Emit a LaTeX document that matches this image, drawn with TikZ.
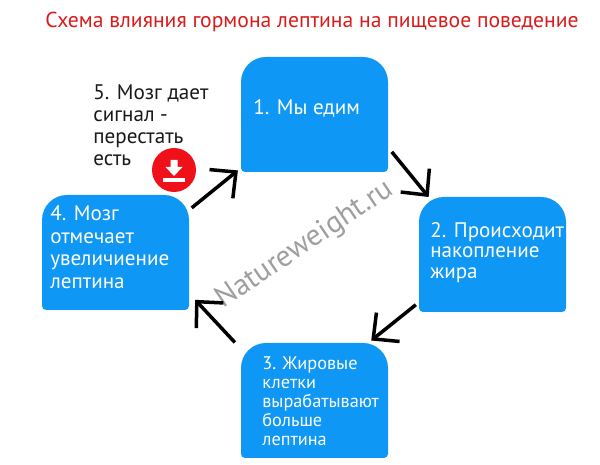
\documentclass[tikz,border=0pt]{standalone}
\usepackage{fontspec}
\setmainfont{PT Sans}
\usepackage{tikz}
\usetikzlibrary{arrows.meta}
\pgfdeclarelayer{background}
\pgfsetlayers{background,main}
\definecolor{boxblue}{HTML}{0E97F4}
\definecolor{titlered}{HTML}{D81B1B}
\definecolor{iconred}{HTML}{F0101A}
\tikzstyle{diagElt} = [minimum width=2.94cm, minimum height=2.3cm, inner sep=0pt, outer sep=0pt]
\tikzstyle{diagTxt} = [anchor=north west, inner sep=0pt, align=left, text=white,
  font=\fontsize{12}{12.9}\selectfont]
\tikzstyle{noteTxt} = [anchor=north west, inner sep=0pt, align=left, text=black!90,
  font=\fontsize{12}{12.5}\selectfont]
\tikzstyle{line} = [draw, line width=0.07cm, color=black,
  -{Straight Barb[length=0.38cm,width=0.74cm]}]
\newcommand{\diagElt}[1]{node (p#1) [diagElt] {}}
\newcommand{\boxBack}[1]{%
  \begin{pgfonlayer}{background}
    % Small radius below, large radius above
    \fill[boxblue, rounded corners=0.08cm] (p#1.south west)
      [rounded corners=0.5cm] -- (p#1.north west) -- (p#1.north east)
      [rounded corners=0.08cm] -- (p#1.south east) -- cycle;
  \end{pgfonlayer}}

\begin{document}
\begin{tikzpicture}
  \useasboundingbox (0,0) rectangle (12,9.3);

  % Draw diagram elements
  \path (6.29,7.01) \diagElt{1};
  \path (p1.center)+(3.56,-2.80) \diagElt{2};
  \path (p1.center)+(0.00,-5.72) \diagElt{3};
  \path (p1.center)+(-3.98,-2.76) \diagElt{4};
  \boxBack{1}
  \boxBack{2}
  \boxBack{3}
  \boxBack{4}

  % Draw box texts
  \path (p1.north west)+(0.24,-0.84) node (t1) [diagTxt] {1. Мы едим};
  \path (p2.north west)+(0.22,-0.50) node (t2) [diagTxt, font=\fontsize{12}{11.7}\selectfont]
    {2. Происходит\\накопление\\жира};
  \path (p3.north west)+(0.42,-0.26) node (t3) [diagTxt, font=\fontsize{10.4}{10.9}\selectfont]
    {3. Жировые\\клетки\\вырабатывают\\больше\\лептина};
  \path (p4.north west)+(0.16,-0.20) node (t4) [diagTxt] {4. Мозг\\отмечает\\увеличиение\\лептина};

  \node (title) at (6.24,8.87) [text=titlered, font=\fontsize{12.3}{14}\selectfont]
    {Схема влияния гормона лептина на пищевое поведение};
  \node (note) at (1.86,7.62) [noteTxt] {5. Мозг дает\\сигнал -\\перестать\\есть};
  \node (mark) at (6.1,4.4) [rotate=34, text=black!38, font=\fontsize{17}{20}\selectfont]
    {Natureweight.ru};

  % Draw the red icon
  \node (icon) at (3.48,5.90) [circle, fill=iconred, minimum size=0.88cm, inner sep=0pt] {};
  \fill[white] (icon.center)+(-0.07,0.20) -- +(0.07,0.20) -- +(0.07,0.06) -- +(0.17,0.06)
    -- +(0,-0.12) -- +(-0.17,0.06) -- +(-0.07,0.06) -- cycle;
  \fill[white] (icon.center)+(-0.22,-0.16) rectangle +(0.22,-0.24);

  % Draw arrows between elements
  \path [line, shorten <=0.12cm] (p1.-24.5) -- (p2.138);
  \path [line, shorten <=0.08cm, shorten >=0.08cm] (p2.213.4) -- (p3.47.1);
  \path [line, shorten <=0.18cm, shorten >=0.18cm] (p3.145.2) -- (p4.-29.2);
  \path [line, shorten <=0.07cm, shorten >=0.08cm] (p4.30.3) -- (p1.216);
\end{tikzpicture}
\end{document}
